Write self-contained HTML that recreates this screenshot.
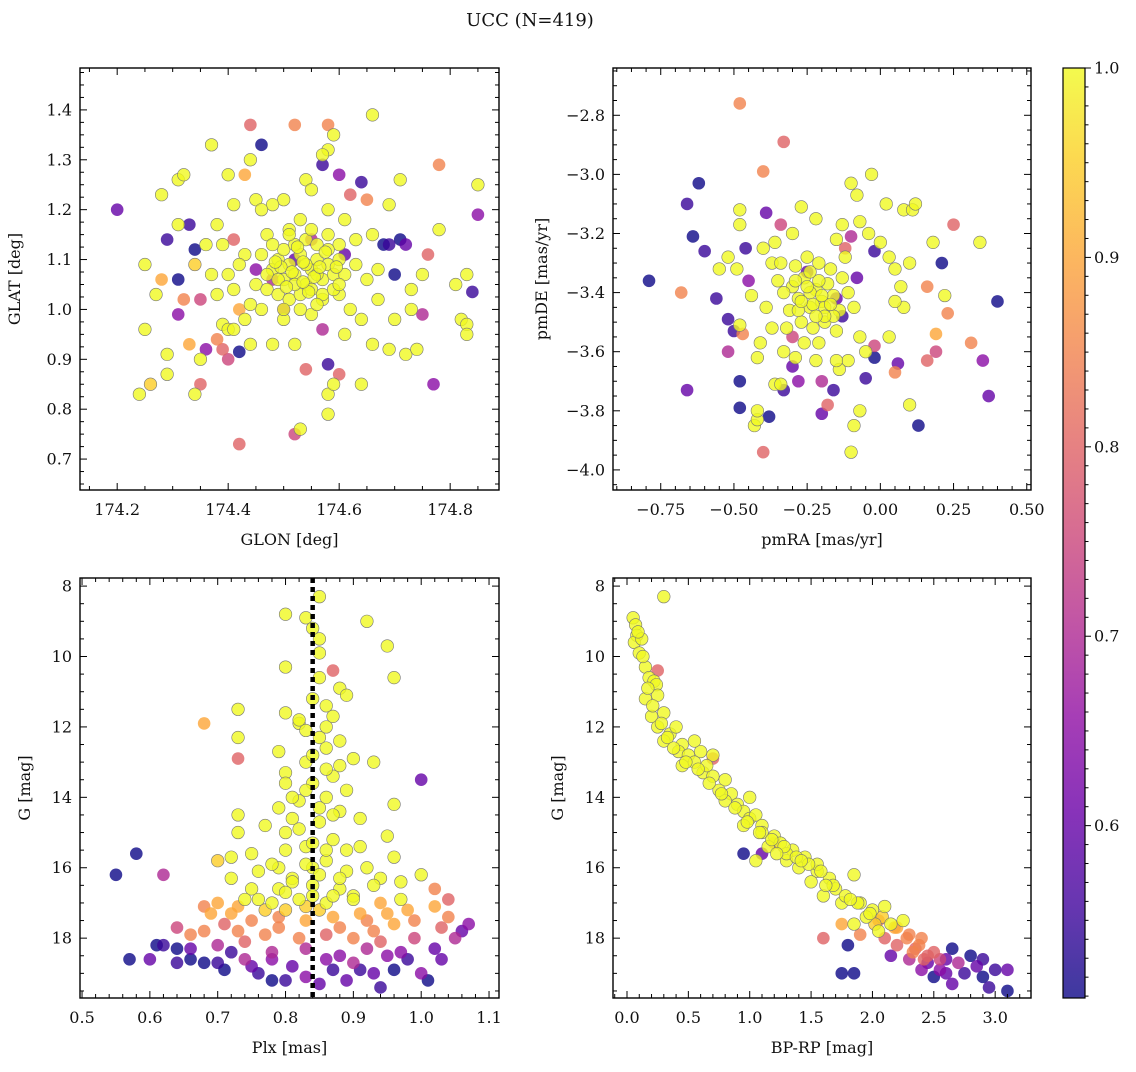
<!DOCTYPE html>
<html><head><meta charset="utf-8"><style>
body{margin:0;background:#fff}
svg text{font-family:"DejaVu Serif","Liberation Serif",serif;fill:#111}
</style></head><body>
<svg id="fig" width="1136" height="1067" xmlns="http://www.w3.org/2000/svg">
<text x="530" y="26" font-size="18" text-anchor="middle">UCC (N=419)</text>
</svg>
<script>
// Top-left: GLON vs GLAT
const tlX=[174.20,174.29,174.33,174.34,174.31,174.31,174.32,174.35,174.36,174.35,174.34,174.39,174.40,174.38,174.42,174.42,174.41,174.43,174.44,174.52,174.58,174.46,174.57,174.64,174.68,174.69,174.71,174.72,174.70,174.76,174.77,174.78,174.85,174.84,174.75,174.58,174.57,174.54,174.52,174.60,174.62,174.65,174.52,174.55,174.48,174.45,174.60,174.61,174.50,174.42,174.28,174.26,174.33,
174.25,174.24,174.25,174.27,174.29,174.29,174.28,174.31,174.32,174.31,174.34,174.37,174.40,174.41,174.44,174.39,174.37,174.38,174.39,174.40,174.41,174.43,174.44,174.48,174.52,174.53,174.58,174.58,174.59,174.61,174.64,174.66,174.69,174.72,174.74,174.70,174.73,174.73,174.75,174.78,174.82,174.83,174.83,174.83,174.81,174.85,174.71,174.69,174.66,174.59,174.58,174.57,174.54,174.55,174.50,174.48,174.45,174.46,174.38,174.36,174.35,174.45,174.67,174.67,174.63,174.66,174.61,174.62,174.60,174.64,174.46,174.44,174.50,174.55,174.57,174.58,174.53,174.51,174.47,174.43,174.42,174.40,174.41,174.63,174.65,174.60,
174.48,174.49,174.50,174.51,174.52,174.53,174.54,174.55,174.56,174.57,174.58,174.59,174.50,174.52,174.54,174.56,174.58,174.47,174.49,174.51,174.53,174.55,174.57,174.59,174.46,174.48,174.60,174.61,174.52,174.54,174.56,174.51,174.55,174.53,174.50,174.56,174.47,174.60,174.49,174.58,
174.495,174.515,174.535,174.555,174.575,174.505,174.525,174.545,174.565,174.485,174.595,174.535];
const tlY=[1.20,1.14,1.17,1.12,1.06,0.99,1.02,1.02,0.92,0.85,1.09,0.92,0.90,0.94,0.915,0.73,1.14,1.27,1.37,1.37,1.37,1.33,1.29,1.255,1.13,1.13,1.14,1.13,1.07,1.11,0.85,1.29,1.19,1.035,0.99,0.89,0.96,0.88,0.75,1.27,1.23,1.22,1.10,1.14,1.06,1.08,0.87,1.11,1.00,1.00,1.06,0.85,0.93,
1.09,0.83,0.96,1.03,0.91,0.87,1.23,1.26,1.27,1.17,0.83,1.33,1.27,1.21,1.30,1.13,1.07,1.03,0.97,0.96,0.96,0.98,0.93,0.93,0.93,0.76,0.79,0.83,0.85,0.95,0.85,0.93,0.92,0.91,0.92,0.98,1.00,1.04,1.07,1.16,0.98,0.97,0.95,1.07,1.05,1.25,1.26,1.21,1.39,1.35,1.32,1.31,1.26,1.24,1.22,1.21,1.22,1.20,1.17,1.13,0.90,1.05,1.02,1.08,1.14,1.15,1.18,1.00,1.03,0.98,1.00,1.01,0.98,0.99,1.02,1.20,1.18,1.16,1.15,1.11,1.09,1.07,1.04,1.09,1.06,1.13,
1.08,1.10,1.06,1.09,1.07,1.11,1.05,1.08,1.10,1.06,1.09,1.07,1.12,1.13,1.14,1.13,1.12,1.04,1.03,1.02,1.03,1.04,1.03,1.04,1.11,1.13,1.10,1.07,1.05,1.09,1.07,1.15,1.16,1.00,1.00,1.01,1.07,1.05,1.06,1.15,
1.085,1.075,1.095,1.065,1.115,1.045,1.125,1.035,1.085,1.095,1.085,1.055];
const tlP=[0.60,0.55,0.55,0.50,0.50,0.65,0.85,0.75,0.65,0.80,0.95,0.80,0.75,0.85,0.50,0.80,0.80,0.90,0.80,0.85,0.85,0.50,0.55,0.55,0.50,0.55,0.50,0.60,0.50,0.80,0.65,0.85,0.65,0.55,0.70,0.55,0.70,0.80,0.75,0.65,0.80,0.85,0.60,0.70,0.70,0.65,0.80,0.60,0.70,0.90,0.90,0.95,0.90];

// Top-right: pmRA vs pmDE
const trX=[-0.79,-0.62,-0.66,-0.64,-0.60,-0.66,-0.68,-0.56,-0.52,-0.50,-0.52,-0.48,-0.48,-0.38,-0.40,-0.48,-0.40,-0.33,-0.39,-0.34,-0.46,-0.45,-0.47,-0.30,-0.33,-0.28,-0.20,-0.18,-0.20,-0.16,-0.05,-0.02,0.06,0.13,0.21,0.40,0.35,0.37,0.25,0.23,0.19,0.19,0.16,0.16,0.31,0.05,-0.10,-0.12,-0.02,-0.08,-0.15,-0.25,-0.02,-0.13,-0.30,
-0.48,-0.48,-0.49,-0.52,-0.44,-0.48,-0.41,-0.42,-0.43,-0.42,-0.42,-0.36,-0.34,-0.10,-0.09,-0.07,0.10,-0.10,-0.03,-0.08,0.02,0.08,0.11,0.12,0.34,0.22,0.18,0.10,0.08,0.05,0.03,-0.27,-0.22,-0.30,-0.40,-0.36,-0.37,-0.39,-0.37,-0.33,-0.29,-0.22,-0.14,-0.11,-0.05,-0.07,-0.15,-0.13,-0.07,-0.04,0.00,0.03,0.05,0.07,-0.55,-0.15,
-0.30,-0.28,-0.26,-0.24,-0.22,-0.20,-0.18,-0.16,-0.14,-0.27,-0.23,-0.19,-0.31,-0.33,-0.35,-0.25,-0.21,-0.17,-0.13,-0.11,-0.29,-0.32,-0.15,-0.21,-0.26,-0.09,-0.12,-0.34,-0.24,-0.19,-0.28,-0.16,
-0.23,-0.25,-0.21,-0.27,-0.19,-0.29,-0.17,-0.22,-0.24,-0.20];
const trY=[-3.36,-3.03,-3.10,-3.21,-3.26,-3.73,-3.40,-3.42,-3.49,-3.53,-3.60,-3.70,-3.79,-3.82,-3.94,-2.76,-2.99,-2.89,-3.13,-3.17,-3.25,-3.36,-3.54,-3.65,-3.73,-3.70,-3.70,-3.78,-3.81,-3.73,-3.69,-3.62,-3.64,-3.85,-3.30,-3.43,-3.63,-3.75,-3.17,-3.47,-3.54,-3.60,-3.63,-3.38,-3.57,-3.67,-3.21,-3.25,-3.26,-3.35,-3.42,-3.33,-3.58,-3.48,-3.55,
-3.12,-3.17,-3.32,-3.28,-3.41,-3.51,-3.57,-3.62,-3.85,-3.83,-3.80,-3.71,-3.71,-3.94,-3.85,-3.80,-3.78,-3.03,-3.00,-3.07,-3.10,-3.12,-3.12,-3.10,-3.23,-3.41,-3.23,-3.30,-3.45,-3.43,-3.55,-3.11,-3.15,-3.20,-3.25,-3.23,-3.30,-3.45,-3.52,-3.60,-3.62,-3.63,-3.66,-3.63,-3.60,-3.55,-3.22,-3.17,-3.16,-3.20,-3.23,-3.28,-3.32,-3.38,-3.32,-3.63,
-3.38,-3.42,-3.35,-3.45,-3.39,-3.43,-3.37,-3.41,-3.46,-3.50,-3.52,-3.50,-3.46,-3.40,-3.36,-3.28,-3.30,-3.32,-3.35,-3.40,-3.31,-3.52,-3.53,-3.57,-3.57,-3.45,-3.28,-3.30,-3.40,-3.45,-3.46,-3.48,
-3.44,-3.38,-3.36,-3.43,-3.48,-3.36,-3.44,-3.48,-3.33,-3.41];
const trP=[0.50,0.50,0.55,0.50,0.55,0.60,0.85,0.55,0.55,0.55,0.70,0.50,0.50,0.50,0.80,0.85,0.85,0.80,0.60,0.75,0.55,0.65,0.85,0.60,0.55,0.65,0.70,0.80,0.60,0.55,0.55,0.50,0.60,0.50,0.50,0.50,0.65,0.60,0.80,0.85,0.90,0.75,0.80,0.85,0.85,0.85,0.70,0.80,0.55,0.60,0.60,0.60,0.75,0.55,0.75];

// Bottom-left: Plx vs G
const blX=[0.80,0.83,0.84,0.85,0.85,0.92,0.85,0.80,0.85,0.87,0.95,0.96,0.88,0.84,0.86,0.89,0.87,0.82,0.80,0.73,0.68,0.73,0.73,0.79,0.83,0.85,0.86,0.88,0.90,0.83,0.80,0.80,0.84,0.87,0.89,0.93,0.96,1.00,0.86,0.82,0.79,0.73,0.73,0.77,0.81,0.85,0.88,0.91,0.95,0.96,0.87,0.83,0.80,0.75,0.72,0.70,0.72,0.76,0.79,0.81,0.84,0.86,0.89,0.92,0.94,1.00,0.88,0.84,0.79,0.75,0.70,0.68,0.73,0.78,0.82,0.86,0.90,0.94,0.97,1.02,1.02,1.04,0.87,0.83,0.79,0.75,0.71,0.68,0.92,0.96,0.99,1.03,1.07,0.77,0.82,0.86,0.90,0.94,0.99,1.06,0.64,0.66,0.70,0.74,0.78,0.83,0.88,0.92,0.97,1.02,1.05,
0.55,0.58,0.62,0.57,0.61,0.62,0.64,0.64,0.66,0.68,0.70,0.71,0.72,0.75,0.76,0.78,0.80,0.81,0.83,0.85,0.87,0.89,0.91,0.93,0.94,0.96,0.98,1.00,1.01,1.03,0.95,0.90,0.86,0.78,0.74,0.60,
0.82,0.86,0.84,0.83,0.86,0.81,0.88,0.85,0.82,0.87,0.84,0.80,0.89,0.83,0.86,0.78,0.91,0.85,0.81,0.88,0.76,0.93,0.84,0.80,0.87,0.74,0.97,0.90,0.83,0.77,
0.69,0.72,0.80,0.85,0.91,0.95,0.98,0.66,0.88,0.79,0.73,0.93,1.04];
const blY=[8.8,8.9,9.2,8.3,9.5,9.0,9.9,10.3,10.6,10.4,9.7,10.6,10.9,11.2,11.4,11.1,11.7,11.9,11.6,11.5,11.9,12.3,12.9,12.7,12.1,12.3,12.6,12.4,12.9,13.0,13.3,13.6,13.6,13.4,13.8,13.0,14.2,13.5,14.0,14.1,14.3,14.5,15.0,14.8,14.6,14.7,14.4,14.6,15.1,15.7,15.2,15.4,15.5,15.6,15.7,15.8,16.3,16.1,16.0,16.3,16.0,15.8,16.1,16.0,16.3,16.2,16.6,16.5,16.6,16.6,17.0,17.1,17.1,17.0,16.9,17.0,16.8,17.0,16.9,17.1,16.6,16.9,17.4,17.5,17.4,17.5,17.6,17.8,17.5,17.6,17.5,17.7,17.6,17.9,18.0,17.9,18.0,18.1,18.0,17.8,17.7,18.3,18.2,18.1,18.4,18.3,18.5,18.3,18.4,18.3,18.0,
16.2,15.6,16.2,18.6,18.2,18.2,18.3,18.7,18.6,18.7,18.7,18.9,18.4,18.8,19.0,19.2,19.2,18.8,19.1,19.3,18.9,19.2,18.9,19.0,19.4,18.9,18.6,19.0,19.2,18.6,18.5,18.7,18.6,18.6,18.6,18.6,
11.8,12.0,12.8,13.8,13.2,14.0,13.1,14.3,14.9,14.5,15.3,15.0,15.5,15.9,15.5,15.9,15.4,16.2,16.4,16.3,16.9,16.5,16.8,16.7,16.8,16.9,16.4,16.9,17.1,17.2,
17.3,17.3,17.2,17.2,17.3,17.3,17.2,17.9,17.7,17.7,17.8,17.8,17.4];
const blP=[1,1,1,1,1,1,1,1,1,0.8,1,1,1,1,1,1,1,1,1,1,0.9,1,0.8,1,1,1,1,1,1,1,1,1,1,1,1,1,1,0.6,1,1,1,1,1,1,1,1,1,1,1,1,1,1,1,1,1,0.95,1,1,1,1,1,1,1,1,1,1,1,1,1,1,0.9,0.85,0.9,1,1,1,1,0.9,1,0.9,0.85,0.8,0.9,0.9,0.85,0.85,0.8,0.85,0.85,0.9,0.85,0.8,0.65,0.85,0.85,0.8,0.85,0.8,0.75,0.6,0.75,0.6,0.7,0.8,0.7,0.7,0.65,0.7,0.65,0.6,0.7,
0.5,0.5,0.7,0.5,0.5,0.55,0.5,0.55,0.5,0.5,0.55,0.5,0.55,0.6,0.55,0.5,0.55,0.6,0.65,0.6,0.55,0.6,0.55,0.6,0.55,0.5,0.55,0.65,0.5,0.6,0.65,0.7,0.65,0.65,0.7,0.6,
1,1,1,1,1,1,1,1,1,1,1,1,1,1,1,1,1,1,1,1,1,1,1,1,1,1,1,1,0.95,0.95,
0.9,0.9,0.95,0.95,0.9,0.9,0.9,0.85,0.85,0.85,0.85,0.85,0.85];
const blPlxMean=0.84;

// Bottom-right: BP-RP vs G
const brX=[0.30,0.05,0.07,0.08,0.06,0.12,0.10,0.15,0.18,0.22,0.24,0.15,0.25,0.20,0.30,0.25,0.35,0.40,0.30,0.45,0.42,0.50,0.60,0.70,0.55,0.45,0.62,0.70,0.80,0.75,0.85,0.80,0.90,0.95,1.00,1.05,1.10,0.95,1.10,1.20,1.25,1.15,1.35,1.05,1.30,1.45,1.40,1.55,1.50,1.65,1.70,1.85,1.60,1.75,1.90,2.00,2.10,1.95,1.85,2.15,2.25,2.05,1.30,1.55,0.65,1.00,0.55,
0.25,0.70,1.20,1.90,2.10,2.30,2.20,2.40,2.35,2.50,1.60,2.20,1.75,2.05,
0.95,1.10,1.80,1.75,1.85,2.15,2.30,2.45,2.55,2.60,2.65,2.70,2.75,2.80,2.85,2.90,3.00,3.10,3.10,2.95,2.65,2.50,2.90,2.40,2.60,
0.09,0.13,0.17,0.21,0.28,0.33,0.38,0.48,0.58,0.67,0.77,0.88,0.98,1.08,1.18,1.28,1.38,1.48,1.58,1.68,1.78,1.88,1.98,2.08,2.18,1.22,1.42,1.62,1.82,2.02,
2.28,2.38,2.45,2.55,2.33,2.42];
const brY=[8.3,8.9,9.1,9.4,9.6,9.5,9.9,10.3,10.6,10.7,10.8,11.2,11.1,11.7,11.6,12.0,12.2,12.0,12.4,12.5,12.7,12.8,12.7,12.8,13.0,13.1,13.3,13.4,13.5,13.8,13.9,14.1,14.2,14.4,14.6,14.5,14.8,14.8,15.0,15.1,15.3,15.4,15.5,15.8,15.8,15.7,16.0,16.1,16.4,16.3,16.6,16.2,16.8,17.0,17.0,17.2,17.1,17.4,17.6,17.6,17.5,17.8,15.6,15.9,13.1,14.0,12.4,
10.4,12.9,15.3,17.9,18.0,17.9,17.7,18.0,18.3,18.4,18.0,18.2,17.6,17.5,
15.6,15.6,18.2,19.0,19.0,18.5,18.6,18.7,18.9,18.6,18.3,18.7,19.0,18.5,18.8,19.1,18.9,18.9,19.5,19.4,19.3,19.1,18.6,18.9,19.0,
9.3,10.0,10.9,11.4,11.9,12.3,12.6,13.0,13.2,13.6,13.9,14.3,14.7,15.0,15.2,15.4,15.7,15.9,16.1,16.5,16.8,17.0,17.3,17.4,17.7,15.6,15.8,16.5,16.9,17.6,
18.0,18.2,18.5,18.6,18.4,18.6];
const brP=[1,1,1,1,1,1,1,1,1,1,1,1,1,1,1,1,1,1,1,1,1,1,1,1,1,1,1,1,1,1,1,1,1,1,1,1,1,1,1,1,1,1,1,1,1,1,1,1,1,1,1,1,1,1,1,1,1,1,1,1,1,1,1,1,1,1,1,
0.8,0.8,0.85,0.85,0.8,0.85,0.9,0.85,0.8,0.8,0.8,0.8,0.9,0.85,
0.5,0.6,0.5,0.5,0.5,0.6,0.7,0.6,0.65,0.6,0.5,0.7,0.55,0.5,0.6,0.5,0.55,0.6,0.5,0.55,0.6,0.5,0.55,0.65,0.6,
1,1,1,1,1,1,1,1,1,1,1,1,1,1,1,1,1,1,1,1,1,1,1,0.95,0.9,1,1,1,1,0.95,
0.85,0.85,0.8,0.75,0.85,0.8];

const cbTicks=[0.6,0.7,0.8,0.9,1.0];
const VMIN=0.509, VMAX=1.0;

const NS="http://www.w3.org/2000/svg";
const svg=document.getElementById('fig');
function mk(tag,attrs,parent){const e=document.createElementNS(NS,tag);for(const k in attrs)e.setAttribute(k,attrs[k]);(parent||svg).appendChild(e);return e;}
const plasma=[[13,8,135],[65,4,157],[106,0,168],[143,13,164],[177,42,144],[204,71,120],[225,100,98],[242,132,75],[252,166,54],[252,206,37],[240,249,33]];
function cmap(t){t=Math.max(0,Math.min(1,t))*10;const i=Math.min(9,Math.floor(t)),f=t-i;const a=plasma[i],b=plasma[i+1];return `rgb(${a.map((v,k)=>Math.round(v+(b[k]-v)*f)).join(',')})`;}
function norm(p){return (p-VMIN)/(VMAX-VMIN);}
function fmt(v,d){let s=v.toFixed(d);if(parseFloat(s)<0)s='\u2212'+s.slice(1);return s;}

function panel(o){
  const g=mk('g',{});
  
  
  const {x0,x1,y0,y1,xmin,xmax,ymin,ymax,invY}=o;
  const sx=v=>x0+(v-xmin)/(xmax-xmin)*(x1-x0);
  const sy=v=>invY? y0+(v-ymin)/(ymax-ymin)*(y1-y0) : y1-(v-ymin)/(ymax-ymin)*(y1-y0);
  const clip='c'+o.name;
  const cp=mk('clipPath',{id:clip},g);mk('rect',{x:x0,y:y0,width:x1-x0,height:y1-y0},cp);
  const pts=mk('g',{'clip-path':`url(#${clip})`},g);
  
  
  const idx=o.X.map((_,i)=>i).sort((a,b)=>(o.P[a]??1)-(o.P[b]??1));
  for(const i of idx){
    const p=o.P[i]??1;
    const c=mk('circle',{cx:sx(o.X[i]),cy:sy(o.Y[i]),r:6.3,fill:cmap(norm(p)),'fill-opacity':0.8,stroke:p>0.9?'#777':'none','stroke-width':0.6},pts);
    
    
  }
  if(o.vline!==undefined){
    const l=mk('line',{x1:sx(o.vline),x2:sx(o.vline),y1:y0,y2:y1,stroke:'#000','stroke-width':4.5,'stroke-dasharray':'5,4'},pts);
    
    
  }
  mk('rect',{x:x0,y:y0,width:x1-x0,height:y1-y0,fill:'none',stroke:'#000','stroke-width':1.4},g);
  function ticks(axis,start,step,end,nsub,dec){
    const lo=axis==='x'?Math.min(xmin,xmax):Math.min(ymin,ymax), hi=axis==='x'?Math.max(xmin,xmax):Math.max(ymin,ymax);
    const ms=step/nsub;
    for(let k=Math.ceil((lo-1e-9)/ms);k*ms<=hi+1e-9;k++){
      const v=k*ms; const major=Math.abs(v/step-Math.round(v/step))<1e-6;
      const L=major?7:4;
      if(axis==='x'){const X=sx(v);mk('line',{x1:X,x2:X,y1:y1,y2:y1-L,stroke:'#000','stroke-width':1},g);mk('line',{x1:X,x2:X,y1:y0,y2:y0+L,stroke:'#000','stroke-width':1},g);}
      else {const Y=sy(v);mk('line',{x1:x0,x2:x0+L,y1:Y,y2:Y,stroke:'#000','stroke-width':1},g);mk('line',{x1:x1,x2:x1-L,y1:Y,y2:Y,stroke:'#000','stroke-width':1},g);}
    }
    for(let v=start;v<=end+1e-9;v+=step){
      if(axis==='x'){const t=mk('text',{x:sx(v),y:y1+25,'font-size':16,'text-anchor':'middle'},g);t.textContent=fmt(v,dec);}
      else {const t=mk('text',{x:x0-8,y:sy(v)+5.5,'font-size':16,'text-anchor':'end'},g);t.textContent=fmt(v,dec);}
    }
  }
  ticks('x',o.xt[0],o.xt[1],o.xt[2],o.xt[3],o.xt[4]);
  ticks('y',o.yt[0],o.yt[1],o.yt[2],o.yt[3],o.yt[4]);
  const xl=mk('text',{x:(x0+x1)/2,y:y1+55,'font-size':16,'text-anchor':'middle'},g);xl.textContent=o.xlabel;
  
  const yx=x0-o.ylOff, yy=(y0+y1)/2;
  const yl=mk('text',{x:yx,y:yy,'font-size':16,'text-anchor':'middle',transform:`rotate(-90 ${yx} ${yy})`},g);yl.textContent=o.ylabel;
  
}

panel({name:'glon-glat-panel',x0:80,x1:499,y0:68,y1:490,xmin:174.133,xmax:174.888,ymin:0.638,ymax:1.484,X:tlX,Y:tlY,P:tlP,xt:[174.2,0.2,174.8,4,1],yt:[0.7,0.1,1.4,4,1],xlabel:'GLON [deg]',ylabel:'GLAT [deg]',ylOff:60});
panel({name:'pm-panel',x0:613,x1:1031,y0:68,y1:490,xmin:-0.913,xmax:0.5145,ymin:-4.068,ymax:-2.64,X:trX,Y:trY,P:trP,xt:[-0.75,0.25,0.5,5,2],yt:[-4.0,0.2,-2.8,4,1],xlabel:'pmRA [mas/yr]',ylabel:'pmDE [mas/yr]',ylOff:66});
panel({name:'plx-g-panel',x0:80,x1:499,y0:578,y1:998,xmin:0.497,xmax:1.1147,ymin:7.77,ymax:19.70,invY:true,X:blX,Y:blY,P:blP,vline:blPlxMean,xt:[0.5,0.1,1.1,5,1],yt:[8,2,18,4,0],xlabel:'Plx [mas]',ylabel:'G [mag]',ylOff:50});
panel({name:'cmd-panel',x0:613,x1:1031,y0:578,y1:998,xmin:-0.114,xmax:3.292,ymin:7.77,ymax:19.70,invY:true,X:brX,Y:brY,P:brP,xt:[0,0.5,3,5,1],yt:[8,2,18,4,0],xlabel:'BP-RP [mag]',ylabel:'G [mag]',ylOff:50});

// colorbar
(function(){
  const x0=1063,x1=1085,y0=68,y1=998;
  const g=mk('g',{});
  
  
  const defs=mk('defs',{},g);
  const lg=mk('linearGradient',{id:'cbg',x1:0,y1:1,x2:0,y2:0},defs);
  plasma.forEach((c,i)=>mk('stop',{offset:i/10,'stop-color':`rgb(${c.join(',')})`,'stop-opacity':0.8},lg));
  mk('rect',{x:x0,y:y0,width:x1-x0,height:y1-y0,fill:'url(#cbg)',stroke:'#000','stroke-width':1.2},g);
  const sy=v=>y1-(v-VMIN)/(VMAX-VMIN)*(y1-y0);
  for(let k=51;k<=100;k++){const v=k/100;const Y=sy(v);const major=k%10===0;
    mk('line',{x1:x1,x2:x1+(major?6:3.5),y1:Y,y2:Y,stroke:'#000','stroke-width':1},g);}
  cbTicks.forEach(v=>{const t=mk('text',{x:x1+9,y:sy(v)+5.5,'font-size':16},g);t.textContent=v.toFixed(1);
    });
})();
</script>
</body></html>
